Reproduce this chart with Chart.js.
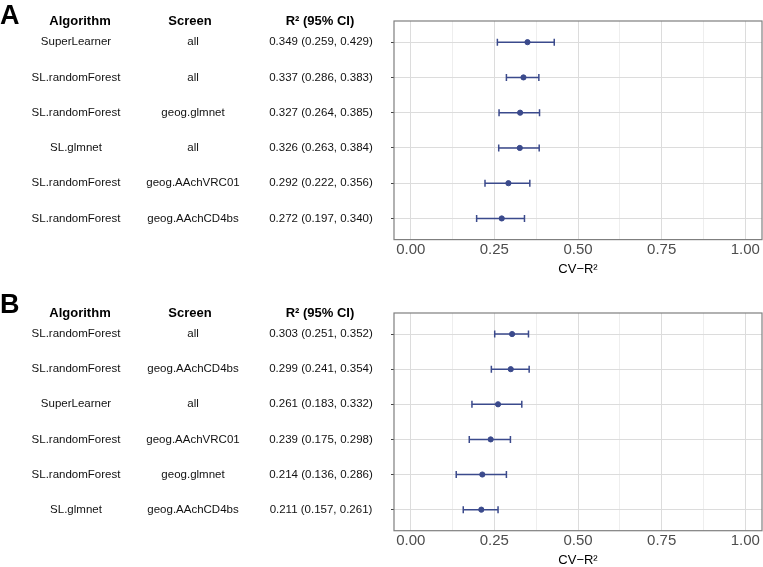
<!DOCTYPE html>
<html>
<head>
<meta charset="utf-8">
<title>CV-R2 forest plots</title>
<script src="https://cdn.jsdelivr.net/npm/chart.js@4.4.1/dist/chart.umd.min.js"></script>
<style>
  body { margin: 0; background: #fff; }
  .panel { position: relative; width: 763px; }
  canvas { display: block; }
</style>
</head>
<body>
<div class="panel"><canvas id="chartA" width="763" height="292"></canvas></div>
<div class="panel"><canvas id="chartB" width="763" height="275"></canvas></div>

<script>
// ---- data: panel A ----
const algA = ['SuperLearner', 'SL.randomForest', 'SL.randomForest', 'SL.glmnet', 'SL.randomForest', 'SL.randomForest'];
const screenA = ['all', 'all', 'geog.glmnet', 'all', 'geog.AAchVRC01', 'geog.AAchCD4bs'];
const r2A = [0.349, 0.337, 0.327, 0.326, 0.292, 0.272];
const lowA = [0.259, 0.286, 0.264, 0.263, 0.222, 0.197];
const highA = [0.429, 0.383, 0.385, 0.384, 0.356, 0.340];

// ---- data: panel B ----
const algB = ['SL.randomForest', 'SL.randomForest', 'SuperLearner', 'SL.randomForest', 'SL.randomForest', 'SL.glmnet'];
const screenB = ['all', 'geog.AAchCD4bs', 'all', 'geog.AAchVRC01', 'geog.glmnet', 'geog.AAchCD4bs'];
const r2B = [0.303, 0.299, 0.261, 0.239, 0.214, 0.211];
const lowB = [0.251, 0.241, 0.183, 0.175, 0.136, 0.157];
const highB = [0.352, 0.354, 0.332, 0.298, 0.286, 0.261];

// ---- axis ----
const xTicks = [0, 0.25, 0.5, 0.75, 1];
const headers = ['Algorithm', 'Screen', 'R\u00B2 (95% CI)'];
const xTitle = 'CV\u2212R\u00B2';

const FONT = "'Liberation Sans', Arial, Helvetica, sans-serif";
const navy = '#3b4a8c';

function makePanel(canvasId, letter, letterY, alg, screen, r2, low, high, padBottom) {
    const rows = r2.map((v, i) => ({ x: v, y: i }));

    // minor grid lines halfway between the major ticks
    const minor = xTicks.slice(1).map((t, i) => (t + xTicks[i]) / 2);

    const forestPlugin = {
        id: 'forest_' + canvasId,
        beforeDatasetsDraw(chart) {
            const { ctx } = chart;
            const xs = chart.scales.x, ys = chart.scales.y;
            ctx.save();
            ctx.strokeStyle = navy;
            ctx.lineWidth = 1.5;
            low.forEach((lo, i) => {
                const py = ys.getPixelForValue(i);
                const x0 = xs.getPixelForValue(lo);
                const x1 = xs.getPixelForValue(high[i]);
                ctx.beginPath();
                ctx.moveTo(x0, py); ctx.lineTo(x1, py);
                ctx.moveTo(x0, py - 3.5); ctx.lineTo(x0, py + 3.5);
                ctx.moveTo(x1, py - 3.5); ctx.lineTo(x1, py + 3.5);
                ctx.stroke();
            });
            ctx.restore();
        },
        afterDraw(chart) {
            const { ctx, chartArea } = chart;
            const ys = chart.scales.y;
            ctx.save();

            // panel border
            ctx.strokeStyle = '#7f7f7f';
            ctx.lineWidth = 1.2;
            ctx.strokeRect(chartArea.left, chartArea.top, chartArea.right - chartArea.left, chartArea.bottom - chartArea.top);

            // panel letter
            ctx.fillStyle = '#000';
            ctx.font = 'bold 27px ' + FONT;
            ctx.textAlign = 'left';
            ctx.textBaseline = 'top';
            ctx.fillText(letter, 0, letterY);

            // table header
            ctx.textAlign = 'center';
            ctx.textBaseline = 'middle';
            ctx.font = 'bold 13px ' + FONT;
            const headX = [80, 190, 320];
            headers.forEach((h, i) => ctx.fillText(h, headX[i], chartArea.top));

            // table rows, aligned with the plot rows
            ctx.font = '11.5px ' + FONT;
            ctx.fillStyle = '#111';
            r2.forEach((v, i) => {
                const py = ys.getPixelForValue(i);
                ctx.fillText(alg[i], 76, py);
                ctx.fillText(screen[i], 193, py);
                ctx.fillText(v.toFixed(3) + ' (' + low[i].toFixed(3) + ', ' + high[i].toFixed(3) + ')', 321, py);
            });
            ctx.restore();
        }
    };

    return new Chart(document.getElementById(canvasId), {
        type: 'scatter',
        data: {
            datasets: [{
                data: rows,
                backgroundColor: navy,
                borderColor: navy,
                pointRadius: 2.6,
                pointHoverRadius: 2.6
            }]
        },
        options: {
            responsive: false,
            animation: false,
            layout: {
                autoPadding: false,
                padding: { top: 21, left: 391, right: 1, bottom: padBottom }
            },
            plugins: { legend: { display: false }, tooltip: { enabled: false } },
            scales: {
                x: {
                    type: 'linear',
                    min: -0.05,
                    max: 1.05,
                    afterBuildTicks: (axis) => {
                        axis.ticks = xTicks.concat(minor).sort((a, b) => a - b).map(v => ({ value: v }));
                    },
                    // the labels fit inside the expanded range, no extra side padding
                    afterFit: (axis) => {
                        axis.paddingLeft = 0;
                        axis.paddingRight = 0;
                    },
                    ticks: {
                        autoSkip: false,
                        maxRotation: 0,
                        padding: 3,
                        color: '#4d4d4d',
                        font: { family: FONT, size: 15, lineHeight: 1 },
                        callback: (v) => xTicks.includes(v) ? v.toFixed(2) : ''
                    },
                    grid: {
                        drawTicks: false,
                        color: (c) => (c.tick && xTicks.includes(c.tick.value)) ? '#dcdcdc' : '#eeeeee',
                        lineWidth: 1
                    },
                    border: { display: false },
                    title: {
                        display: true,
                        text: xTitle,
                        color: '#000',
                        font: { family: FONT, size: 13, lineHeight: 1 },
                        padding: { top: 2, bottom: 0 }
                    }
                },
                y: {
                    type: 'linear',
                    reverse: true,
                    min: -0.6,
                    max: r2.length - 0.4,
                    afterBuildTicks: (axis) => {
                        axis.ticks = r2.map((_, i) => ({ value: i }));
                    },
                    ticks: { display: false },
                    grid: {
                        color: '#dcdcdc',
                        lineWidth: 1,
                        drawTicks: true,
                        tickLength: 3,
                        tickColor: '#444'
                    },
                    border: { display: false }
                }
            }
        },
        plugins: [forestPlugin]
    });
}

makePanel('chartA', 'A', 3, algA, screenA, r2A, lowA, highA, 16.4);
makePanel('chartB', 'B', 0, algB, screenB, r2B, lowB, highB, 0.3);
</script>
</body>
</html>
